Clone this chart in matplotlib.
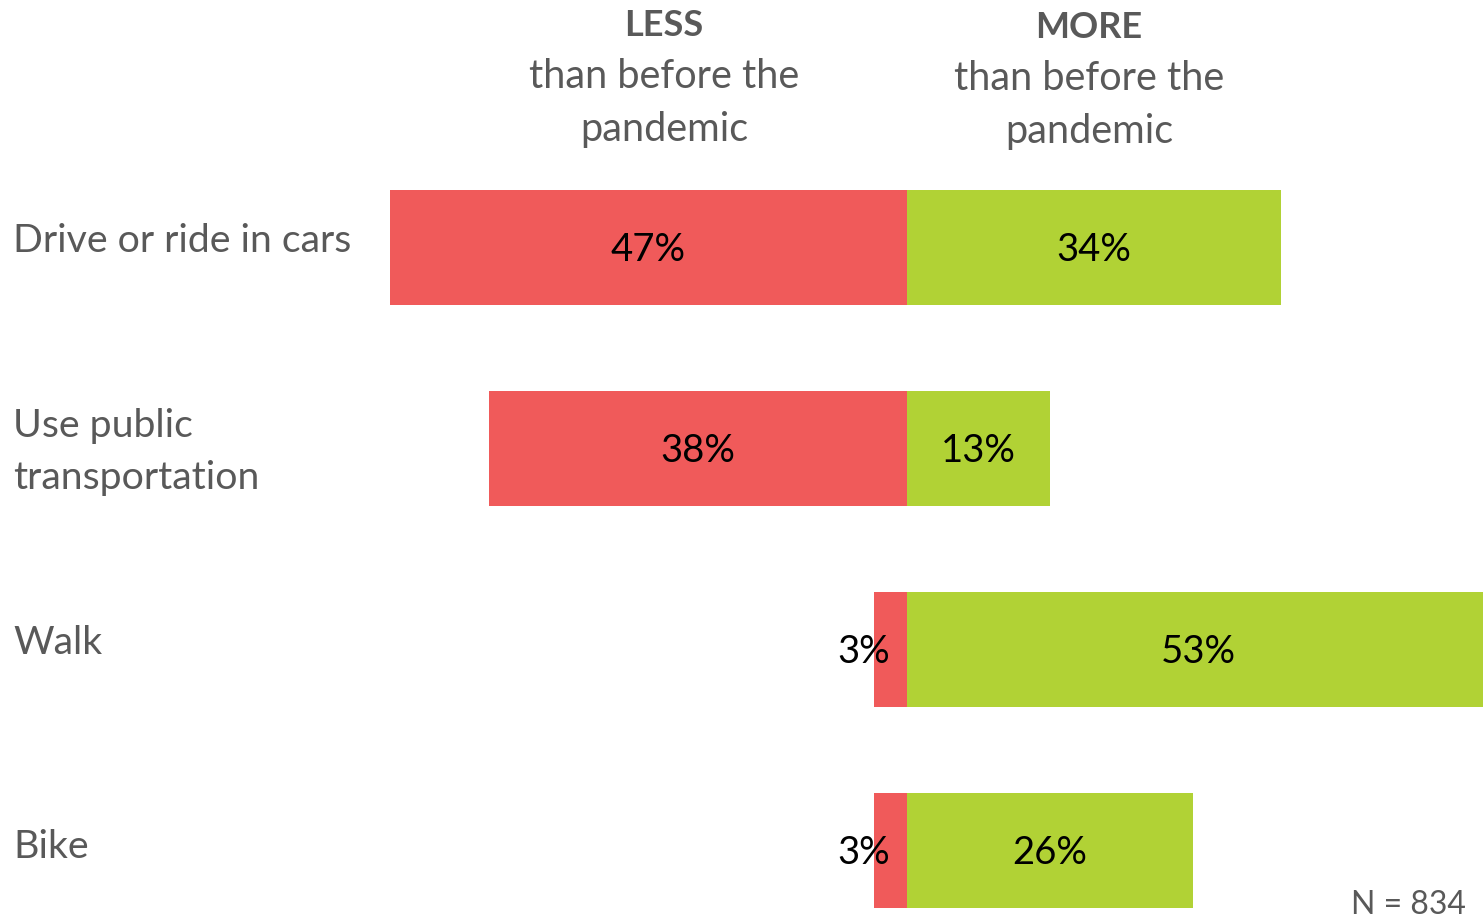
import matplotlib
matplotlib.use("Agg")
import matplotlib.pyplot as plt

# survey results: share of respondents doing each activity less / more than before
categories = ["Drive or ride in cars", "Use public\ntransportation", "Walk", "Bike"]
less_pct = [47, 38, 3, 3]
more_pct = [34, 13, 53, 26]
sample_note = "N = 834"

RED = "#F05A5A"
GREEN = "#B1D235"
GRAY = "#595959"

plt.rcParams["font.family"] = ["Lato", "DejaVu Sans"]

W, H = 1483, 921
fig = plt.figure(figsize=(W / 100, H / 100), dpi=100)
ax = fig.add_axes([0, 0, 1, 1])

rows = list(range(len(categories)))
ax.barh(rows, [-v for v in less_pct], height=0.572, color=RED, edgecolor="none")
ax.barh(rows, more_pct, height=0.572, color=GREEN, edgecolor="none")

# zero line sits at 907 px, roughly 11 px per percent
ax.set_xlim(-82.45, 52.36)
ax.set_ylim(3.353, -1.229)
ax.axis("off")

for i, (lv, mv) in enumerate(zip(less_pct, more_pct)):
    # tiny segments get their label pushed left of the bar
    lx = -lv / 2 if lv > 5 else -lv / 2 - 2.4
    ty = i + 0.015
    ax.text(lx, ty, f"{lv}%", ha="center", va="center", fontsize=27.5, color="black")
    ax.text(mv / 2, ty, f"{mv}%", ha="center", va="center", fontsize=27.5, color="black")


def fig_xy(px, py):
    return px / W, 1 - py / H


# category labels, left-aligned in the margin
label_y = [241, 452, 643, 847]
for cat, py in zip(categories, label_y):
    ax.text(*fig_xy(13, py), cat, transform=fig.transFigure,
            ha="left", va="center", fontsize=28.3, color=GRAY, linespacing=1.55)

# column headers
for xc, y0, word in [(664, 24, "LESS"), (1089, 26, "MORE")]:
    ax.text(*fig_xy(xc, y0 + 2), word, transform=fig.transFigure, ha="center",
            va="center", fontsize=26, fontweight="bold", color=GRAY)
    ax.text(*fig_xy(xc, y0 + 79), "than before the\npandemic", transform=fig.transFigure,
            ha="center", va="center", fontsize=28.5, color=GRAY, linespacing=1.55)

ax.text(*fig_xy(1466, 905), sample_note, transform=fig.transFigure,
        ha="right", va="center", fontsize=23, color=GRAY)

fig.savefig("out.png", dpi=100)
